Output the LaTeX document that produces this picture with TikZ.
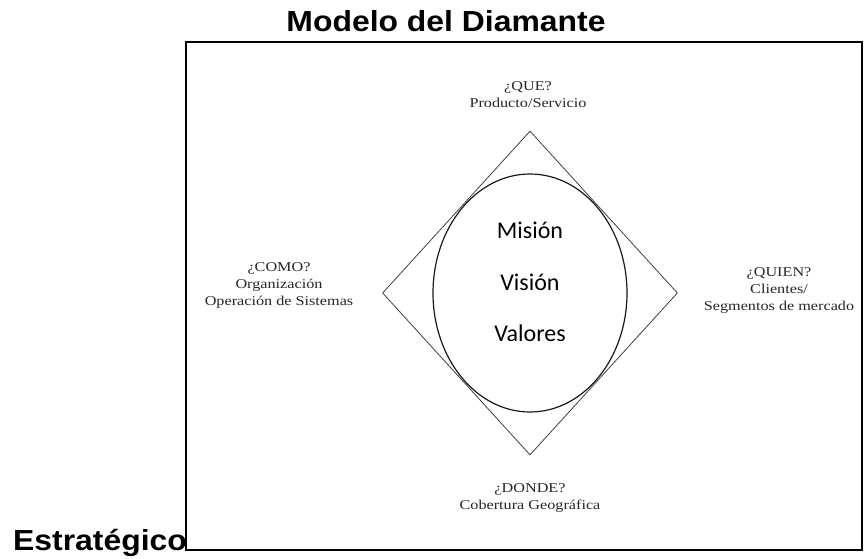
\documentclass[tikz,border=0pt]{standalone}
\usepackage{fontspec}
\usetikzlibrary{shapes.geometric}
\setmainfont{Liberation Serif}
\newfontfamily\headfont[FakeStretch=1.1]{Liberation Sans Bold}
\newfontfamily\labelfont[FakeStretch=1.2]{Liberation Serif}
\newfontfamily\corefont{Carlito}
\begin{document}
\begin{tikzpicture}[x=1pt, y=-1pt,
      head/.style = {inner sep=0pt, font=\headfont\fontsize{29}{32}\selectfont},
      corner/.style = {align=center, inner sep=0pt, text=black!85,
                       font=\labelfont\fontsize{13.5}{17}\selectfont},
      core/.style = {inner sep=0pt, font=\corefont\fontsize{24}{28}\selectfont},
      kite/.style = {diamond, draw=black!75, line width=0.8pt, inner sep=0pt,
                     minimum width=295pt, minimum height=324pt},
      oval/.style = {ellipse, draw=black!90, line width=1.2pt, inner sep=0pt,
                     minimum width=194pt, minimum height=238pt}
      ]
      \useasboundingbox (0,0) rectangle (865,559);
      % frame and headings
      \draw[line width=2pt] (186,42) rectangle (862,550);
      \node[head, anchor=base] (titulo) at (446,32) {Modelo del Diamante};
      \node[head, anchor=base west] (estrategico) at (13,550) {Estratégico};
      % diamond with the core values
      \node[kite] (rombo) at (530,293) {};
      \node[oval] (nucleo) at (530,293) {};
      \node[core] (mision) at (530,230) {Misión};
      \node[core] (vision) at (530,282) {Visión};
      \node[core] (valores) at (530,333) {Valores};
      % the four questions
      \node[corner] (que) at (528,95) {¿QUE?\\Producto/Servicio};
      \node[corner] (como) at (279,285) {¿COMO?\\Organización\\Operación de Sistemas};
      \node[corner] (quien) at (779,290) {¿QUIEN?\\Clientes/\\Segmentos de mercado};
      \node[corner] (donde) at (530,498) {¿DONDE?\\Cobertura Geográfica};
    \end{tikzpicture}
\end{document}
